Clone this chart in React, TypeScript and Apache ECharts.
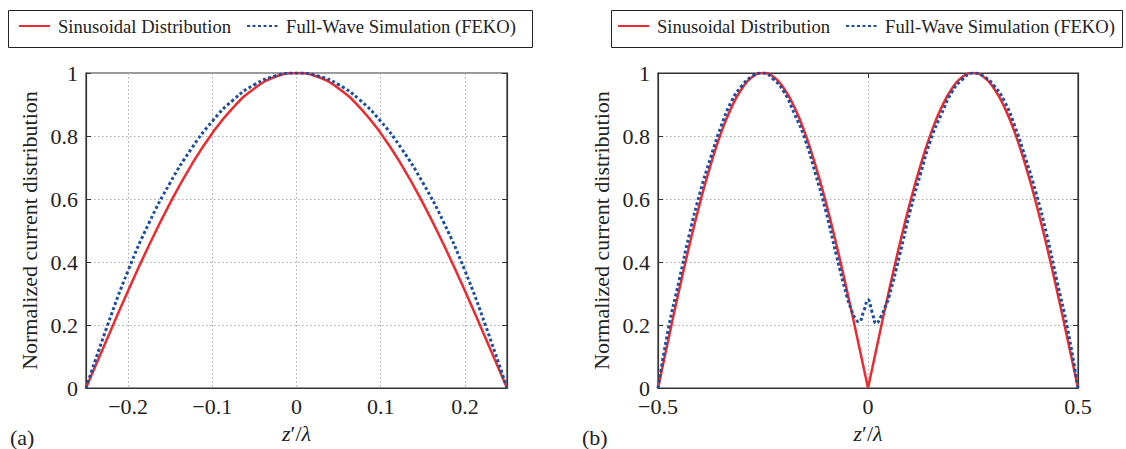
import { useEffect, useRef } from 'react';
import * as echarts from 'echarts';

const SINE = 'Sinusoidal Distribution';
const FEKO = 'Full-Wave Simulation (FEKO)';

// (a) half-wave dipole
const zA = [-0.25, -0.225, -0.2, -0.175, -0.15, -0.125, -0.1, -0.075, -0.05, -0.025, 0, 0.025, 0.05, 0.075, 0.1, 0.125, 0.15, 0.175, 0.2, 0.225, 0.25];
const sineA = [0, 0.156, 0.309, 0.454, 0.588, 0.707, 0.809, 0.891, 0.951, 0.988, 1, 0.988, 0.951, 0.891, 0.809, 0.707, 0.588, 0.454, 0.309, 0.156, 0];
const fekoA = [0, 0.195, 0.373, 0.525, 0.652, 0.759, 0.847, 0.915, 0.963, 0.991, 1, 0.991, 0.963, 0.915, 0.847, 0.759, 0.652, 0.525, 0.373, 0.195, 0];
const ticksA = [-0.2, -0.1, 0, 0.1, 0.2];

// (b) full-wave dipole
const zBLeft = [-0.5, -0.475, -0.45, -0.425, -0.4, -0.375, -0.35, -0.325, -0.3, -0.275, -0.25, -0.225, -0.2, -0.175, -0.15, -0.125, -0.1, -0.075, -0.05, -0.025, 0];
const sineBLeft = [0, 0.156, 0.309, 0.454, 0.588, 0.707, 0.809, 0.891, 0.951, 0.988, 1, 0.988, 0.951, 0.891, 0.809, 0.707, 0.588, 0.454, 0.309, 0.156, 0];
const zBRight = [0, 0.025, 0.05, 0.075, 0.1, 0.125, 0.15, 0.175, 0.2, 0.225, 0.25, 0.275, 0.3, 0.325, 0.35, 0.375, 0.4, 0.425, 0.45, 0.475, 0.5];
const sineBRight = [0, 0.156, 0.309, 0.454, 0.588, 0.707, 0.809, 0.891, 0.951, 0.988, 1, 0.988, 0.951, 0.891, 0.809, 0.707, 0.588, 0.454, 0.309, 0.156, 0];
const zBFeko = [-0.5, -0.475, -0.45, -0.425, -0.4, -0.375, -0.35, -0.325, -0.3, -0.275, -0.25, -0.225, -0.2, -0.175, -0.15, -0.125, -0.1, -0.075, -0.05, -0.04, -0.03, -0.022, -0.01, 0, 0.01, 0.02, 0.03, 0.04, 0.05, 0.075, 0.1, 0.125, 0.15, 0.175, 0.2, 0.225, 0.25, 0.275, 0.3, 0.325, 0.35, 0.375, 0.4, 0.425, 0.45, 0.475, 0.5];
const fekoB = [0, 0.19, 0.34, 0.49, 0.62, 0.73, 0.83, 0.91, 0.96, 0.99, 1, 0.98, 0.94, 0.87, 0.79, 0.68, 0.56, 0.42, 0.29, 0.25, 0.22, 0.21, 0.245, 0.28, 0.24, 0.205, 0.225, 0.255, 0.29, 0.42, 0.56, 0.68, 0.79, 0.87, 0.94, 0.98, 1, 0.99, 0.96, 0.91, 0.83, 0.73, 0.62, 0.49, 0.34, 0.19, 0];

const FONT = 'Liberation Serif, Times New Roman, serif';
const RED = '#ec2a30';
const BLUE = '#1d4f9f';
const TXT = '#222';
const GRIDC = '#a8a8a8';

const pairs = (xs: number[], ys: number[]) => xs.map((x, i) => [x, ys[i]]);

export default function App() {
  const ref = useRef<HTMLDivElement>(null);
  useEffect(() => {
    const chart = echarts.init(ref.current!, null, { renderer: 'svg' });
    const labelStyle = { fontFamily: FONT, fontSize: 22, color: TXT };
    const dotted = { color: GRIDC, type: [1.5, 2.5] as number[], width: 1 };
    const axisLine = { show: true, onZero: false, lineStyle: { color: '#333', width: 1.2 } };
    const tick = { show: true, inside: true, length: 5, lineStyle: { color: '#333' } };
    const xName = {
      name: '{i|z}\u2032/{i|\u03bb}',
      nameLocation: 'middle' as const,
      nameGap: 33,
      nameTextStyle: { ...labelStyle, rich: { i: { fontStyle: 'italic', fontFamily: FONT, fontSize: 22, color: TXT } } },
    };
    const xLabel = { ...labelStyle, margin: 9, lineHeight: 18 };
    const yBase = (gridIndex: number) => ({
      type: 'value' as const,
      gridIndex,
      min: 0,
      max: 1,
      interval: 0.2,
      name: 'Normalized current distribution',
      nameLocation: 'middle' as const,
      nameGap: 46,
      nameTextStyle: labelStyle,
      axisLine,
      axisTick: tick,
      axisLabel: { ...labelStyle, margin: 8, lineHeight: 16 },
      splitLine: { show: true, lineStyle: dotted },
    });
    const yMirror = (gridIndex: number) => ({
      type: 'value' as const,
      gridIndex,
      position: 'right' as const,
      min: 0,
      max: 1,
      interval: 0.2,
      axisLine,
      axisTick: tick,
      axisLabel: { show: false },
      splitLine: { show: false },
    });
    const legendBase = {
      orient: 'horizontal' as const,
      top: 16,
      padding: 0,
      itemWidth: 31,
      itemHeight: 14,
      itemGap: 15,
      itemStyle: { opacity: 0 },
      textStyle: { fontFamily: FONT, fontSize: 18.6, color: TXT, padding: [0, 0, 0, 3], lineHeight: 20 },
      data: [SINE, FEKO],
    };
    const redStyle = { color: RED, width: 2.5 };
    const blueStyle = { color: BLUE, width: 3, type: [3, 2.5] as number[] };
    const line = { type: 'line' as const, smooth: true, showSymbol: false, symbol: 'none' };
    const option = {
      animation: false,
      backgroundColor: '#fff',
      grid: [
        { left: 86, top: 73, width: 421, height: 319, show: true, borderColor: '#333', borderWidth: 1.2, backgroundColor: 'transparent' },
        { left: 658, top: 73, width: 420, height: 319, show: true, borderColor: '#333', borderWidth: 1.2, backgroundColor: 'transparent' },
      ],
      legend: [
        { ...legendBase, left: 18 },
        { ...legendBase, left: 617 },
      ],
      graphic: [
        { type: 'rect', left: 6, top: 8, shape: { width: 524, height: 37 }, style: { fill: 'none', stroke: '#222', lineWidth: 1 }, silent: true },
        { type: 'rect', left: 609, top: 8, shape: { width: 511, height: 37 }, style: { fill: 'none', stroke: '#222', lineWidth: 1 }, silent: true },
        { type: 'text', left: 10, top: 426, style: { text: '(a)', fontFamily: FONT, fontSize: 22, fill: TXT } },
        { type: 'text', left: 582, top: 426, style: { text: '(b)', fontFamily: FONT, fontSize: 22, fill: TXT } },
      ],
      xAxis: [
        {
          type: 'value',
          gridIndex: 0,
          min: -0.25,
          max: 0.25,
          interval: 0.05,
          ...xName,
          axisLine,
          axisTick: { show: false },
          axisLabel: {
            ...xLabel,
            formatter: (v: number) => {
              const t = ticksA.find((k) => Math.abs(k - v) < 1e-6);
              if (t === undefined) return '';
              if (Math.abs(t) < 1e-9) return '0';
              return (t < 0 ? '\u2212' : '') + Math.abs(t).toFixed(1);
            },
          },
          splitLine: { show: true, lineStyle: { ...dotted, color: ['rgba(0,0,0,0)', GRIDC] } },
        },
        {
          type: 'value',
          gridIndex: 1,
          min: -0.5,
          max: 0.5,
          interval: 0.5,
          ...xName,
          axisLine,
          axisTick: tick,
          axisLabel: {
            ...xLabel,
            formatter: (v: number) => (Math.abs(v) < 1e-9 ? '0' : (v < 0 ? '\u2212' : '') + Math.abs(v).toFixed(1)),
          },
          splitLine: { show: true, lineStyle: dotted },
        },
        {
          type: 'value',
          gridIndex: 1,
          position: 'top',
          min: -0.5,
          max: 0.5,
          interval: 0.5,
          axisLine,
          axisTick: tick,
          axisLabel: { show: false },
          splitLine: { show: false },
        },
      ],
      yAxis: [yBase(0), yMirror(0), yBase(1), yMirror(1)],
      series: [
        { ...line, name: SINE, xAxisIndex: 0, yAxisIndex: 0, data: pairs(zA, sineA), lineStyle: redStyle, itemStyle: { color: RED } },
        { ...line, name: FEKO, xAxisIndex: 0, yAxisIndex: 0, data: pairs(zA, fekoA), lineStyle: blueStyle, itemStyle: { color: BLUE } },
        { ...line, name: SINE, xAxisIndex: 1, yAxisIndex: 2, data: pairs(zBLeft, sineBLeft), lineStyle: redStyle, itemStyle: { color: RED } },
        { ...line, name: SINE, xAxisIndex: 1, yAxisIndex: 2, data: pairs(zBRight, sineBRight), lineStyle: redStyle, itemStyle: { color: RED } },
        { ...line, name: FEKO, xAxisIndex: 1, yAxisIndex: 2, data: pairs(zBFeko, fekoB), lineStyle: blueStyle, itemStyle: { color: BLUE } },
      ],
    };
    chart.setOption(option as any);
    return () => chart.dispose();
  }, []);
  return <div ref={ref} style={{ position: 'fixed', left: 0, top: 0, width: 1126, height: 449, background: '#fff' }} />;
}
